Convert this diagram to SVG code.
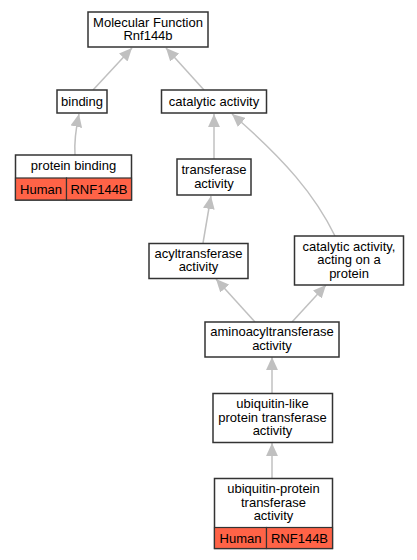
<svg xmlns="http://www.w3.org/2000/svg" width="417" height="560" viewBox="0 0 417 560">
<defs>
<style>
.n{fill:#fff;stroke:#333;stroke-width:1.5}
.h{fill:#ff6347;stroke:#333;stroke-width:1.2}
.t{font-family:"Liberation Sans",Arial,sans-serif;font-size:13px;fill:#000;text-anchor:middle}
.e{fill:none;stroke:#c0c0c0;stroke-width:1.5}
</style>
<marker id="a" markerUnits="userSpaceOnUse" markerWidth="14" markerHeight="12" refX="12" refY="5.5" orient="auto" viewBox="0 0 13 11">
<path d="M0,0 L12,5.5 L0,11 Z" fill="#c0c0c0"/>
</marker>
</defs>
<rect width="417" height="560" fill="#fff"/>
<g id="connectors">
<path class="e" d="M93,90 L132,48" marker-end="url(#a)"/>
<path class="e" d="M204,90 L166,48" marker-end="url(#a)"/>
<path class="e" d="M75,155 C74,140 76,128 79,114" marker-end="url(#a)"/>
<path class="e" d="M214,159 L214,114" marker-end="url(#a)"/>
<path class="e" d="M335,236 C315,195 285,160 232,114" marker-end="url(#a)"/>
<path class="e" d="M203,243 L211,196" marker-end="url(#a)"/>
<path class="e" d="M255,322 L216,279" marker-end="url(#a)"/>
<path class="e" d="M292,322 L326,285" marker-end="url(#a)"/>
<path class="e" d="M272,393 L272,357" marker-end="url(#a)"/>
<path class="e" d="M272,478 L272,443" marker-end="url(#a)"/>
</g>
<g id="mf">
<rect class="n" x="88" y="12" width="120" height="35"/>
<text class="t" x="148" y="26.5">Molecular Function</text>
<text class="t" x="148" y="40">Rnf144b</text>
</g>
<g id="binding">
<rect class="n" x="57" y="90" width="50" height="23"/>
<text class="t" x="82" y="106">binding</text>
</g>
<g id="catalytic">
<rect class="n" x="161.5" y="90" width="105" height="23"/>
<text class="t" x="214" y="106">catalytic activity</text>
</g>
<g id="proteinbinding">
<rect class="n" x="15.5" y="155" width="116" height="45"/>
<text class="t" x="73.5" y="170">protein binding</text>
<rect class="h" x="15.5" y="178" width="51" height="22"/>
<rect class="h" x="66.5" y="178" width="65" height="22"/>
<text class="t" x="41" y="193.5">Human</text>
<text class="t" x="99" y="193.5">RNF144B</text>
</g>
<g id="transferase">
<rect class="n" x="177" y="159" width="74" height="36"/>
<text class="t" x="214" y="174">transferase</text>
<text class="t" x="214" y="187.5">activity</text>
</g>
<g id="acyl">
<rect class="n" x="149" y="243.5" width="99" height="35"/>
<text class="t" x="198.5" y="257.5">acyltransferase</text>
<text class="t" x="198.5" y="271">activity</text>
</g>
<g id="catprotein">
<rect class="n" x="294.5" y="236" width="109" height="49"/>
<text class="t" x="349" y="250.5">catalytic activity,</text>
<text class="t" x="349" y="264">acting on a</text>
<text class="t" x="349" y="277.5">protein</text>
</g>
<g id="amino">
<rect class="n" x="205" y="322" width="134" height="35"/>
<text class="t" x="272" y="336">aminoacyltransferase</text>
<text class="t" x="272" y="349.5">activity</text>
</g>
<g id="ubl">
<rect class="n" x="213" y="393.5" width="119.5" height="49"/>
<text class="t" x="272.5" y="408">ubiquitin-like</text>
<text class="t" x="272.5" y="421.5">protein transferase</text>
<text class="t" x="272.5" y="435">activity</text>
</g>
<g id="ubp">
<rect class="n" x="214.5" y="478.5" width="118" height="70"/>
<text class="t" x="273.5" y="493">ubiquitin-protein</text>
<text class="t" x="273.5" y="506.5">transferase</text>
<text class="t" x="273.5" y="520">activity</text>
<rect class="h" x="214.5" y="527.5" width="52" height="21"/>
<rect class="h" x="266.5" y="527.5" width="66" height="21"/>
<text class="t" x="240.5" y="542.5">Human</text>
<text class="t" x="299.5" y="542.5">RNF144B</text>
</g>
</svg>
